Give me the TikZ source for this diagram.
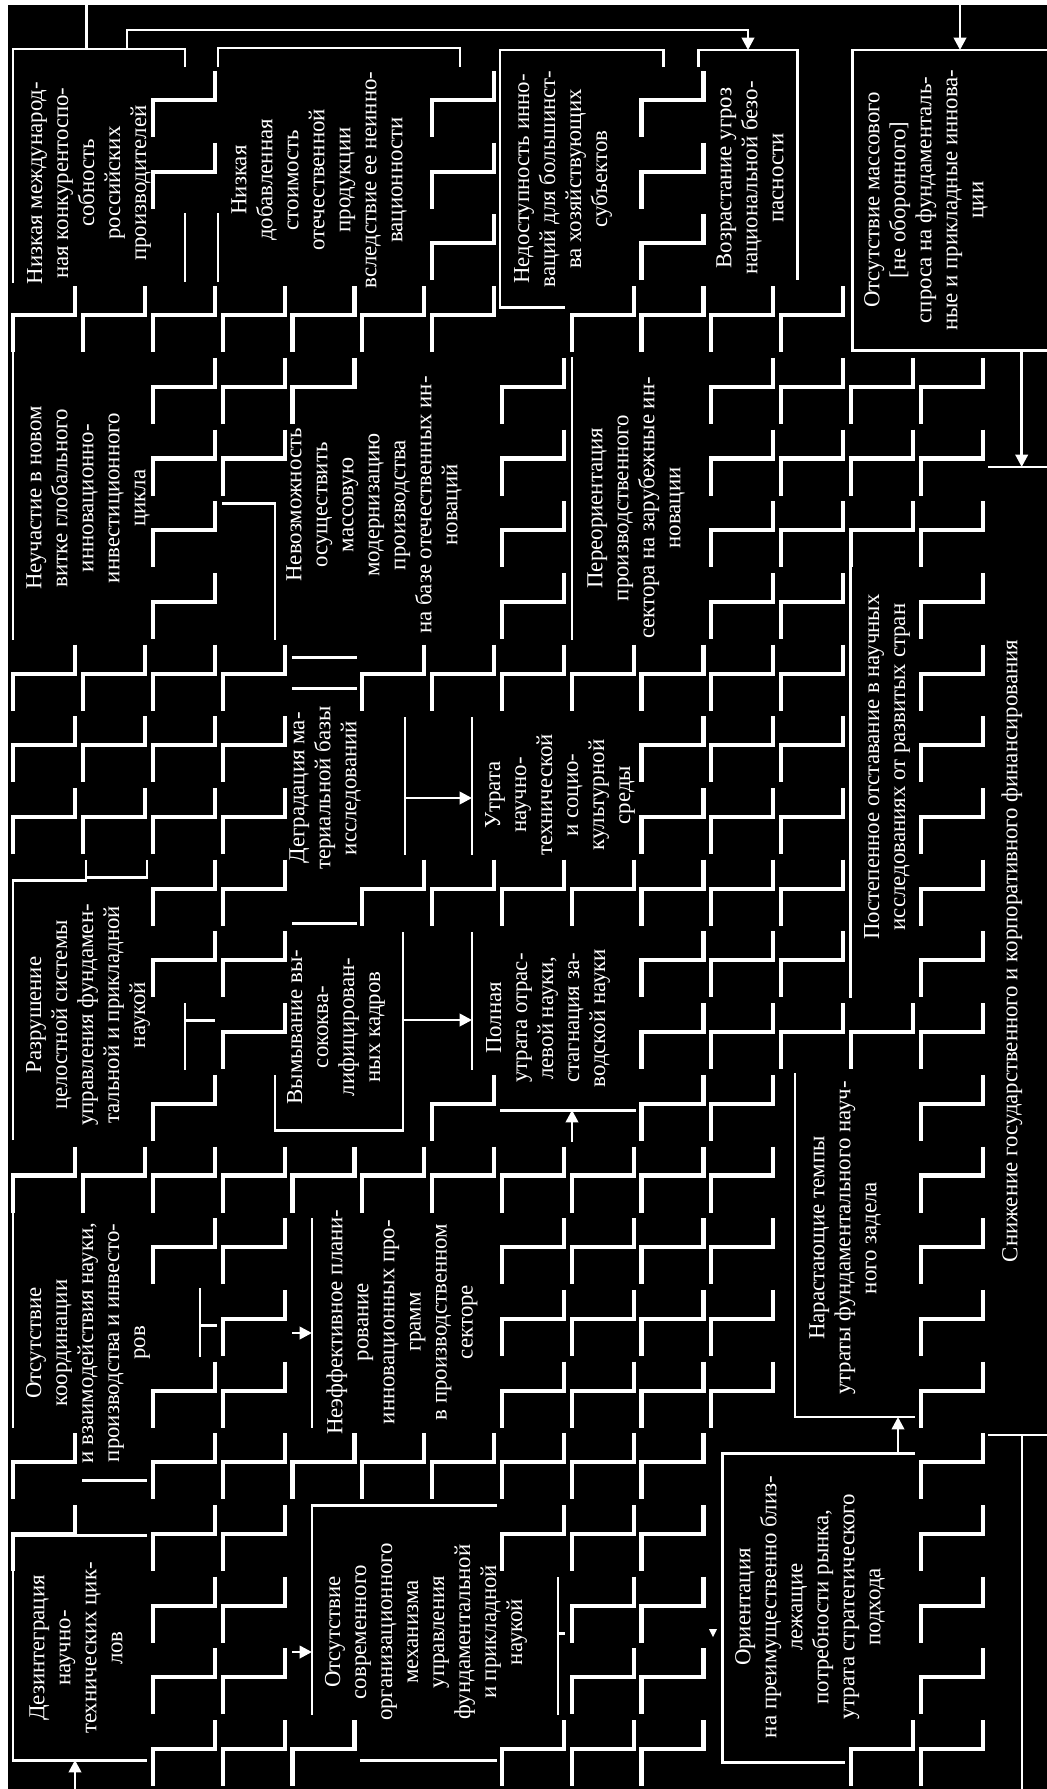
\documentclass[tikz,border=0pt]{standalone}
\usepackage{fontspec}
\setmainfont{Liberation Serif}
\usetikzlibrary{arrows.meta}

\begin{document}
\begin{tikzpicture}[x=0.02cm, y=-0.02cm,
    every node/.style={font=\fontsize{13}{14.8}\selectfont, text=white},
    cause/.style={rotate=90, align=center, inner sep=0pt},
    brick/.style={draw=white, line width=2.3pt},
    frame/.style={draw=white, line width=1.7pt},
    thin/.style={draw=white, line width=1.1pt},
    arrow/.style={draw=white, line width=1.5pt, -{Triangle[length=7pt, width=7pt]}}]

  % page and background
  \useasboundingbox (0,0) rectangle (1047,1789);
  \fill[white] (0,0) rectangle (1047,1789);
  \fill[black] (8,5) rectangle (1047,1789);

  % brick pattern
  \foreach \k in {0,...,13}
    \foreach \j in {0,...,23}
      \draw[brick] ({75.3+69.8*\k},{71+71.7*\j}) -- ++(0,29) -- ++(-62,0) -- ++(0,37);

  % masks behind the boxes (columns ka..kb, rows ja..jb)
  \foreach \ka/\kb/\ja/\jb in {0/1/0/2, 3/5/0/2, 7/8/0/2, 7/7/3/3, 10/11/0/2, 12/13/0/3,
      0/1/4/7, 4/4/5/7, 5/6/4/7, 3/3/6/7, 8/9/4/7, 4/4/8/14, 5/8/9/10, 0/1/11/14,
      2/2/2/2, 2/2/13/13, 2/2/17/17, 3/3/14/14, 5/5/12/14, 6/6/12/13, 7/8/12/14,
      0/1/16/18, 1/1/19/23, 0/0/21/23, 4/6/16/18, 4/4/20/22, 5/6/20/23, 7/7/21/22,
      10/10/19/23, 11/11/14/23, 12/12/14/22, 12/12/7/12}
    \fill[black] ({10.3+69.8*\ka},{70+71.7*\ja}) rectangle ({78.3+69.8*\kb},{140+71.7*\jb});

  % frames
  \draw[frame] (185,67) -- (185,49) -- (13,49) -- (13,283) (185,213) -- (185,282);
  \draw[frame] (218,67) -- (218,48) -- (460,48) -- (460,67) (218,213) -- (218,282);
  \draw[frame] (663,67) -- (663,50) -- (500,50) -- (500,307) -- (565,307);
  \draw[frame] (698,67) -- (698,50) -- (797,50) -- (797,280);
  \draw[frame] (1047,50) -- (852,50) -- (852,350) -- (1047,350);
  \draw[frame] (13,315) -- (13,640);
  \draw[frame] (222,503) -- (275,503) -- (275,640);
  \draw[frame] (572,357) -- (572,640);
  \draw[frame] (292,657) -- (357,657) (292,688) -- (357,688);
  \draw[frame] (405,717) -- (405,855);
  \draw[frame] (472,717) -- (472,855);
  \draw[frame] (850,530) -- (850,998);
  \draw[thin] (988,467) -- (1047,467) (988,1435) -- (1047,1435);
  \draw[frame] (13,1140) -- (13,880) -- (86,880) -- (86,860) (86,877) -- (147,877) -- (147,860);
  \draw[frame] (185,1003) -- (185,1070) (185,1020) -- (215,1020);
  \draw[frame] (292,923) -- (357,923);
  \draw[frame] (403,932) -- (403,1130) -- (275,1130) -- (275,1075);
  \draw[frame] (472,932) -- (472,1070) (500,1110) -- (636,1110);
  \draw[frame] (13,1177) -- (13,1428);
  \draw[frame] (200,1288) -- (200,1357) (200,1325) -- (217,1325);
  \draw[frame] (312,1218) -- (312,1428);
  \draw[frame] (82,1480) -- (147,1480);
  \draw[frame] (147,1535) -- (13,1535) -- (13,1760) -- (147,1760);
  \draw[frame] (497,1505) -- (312,1505) -- (312,1715) (360,1760) -- (497,1760);
  \draw[frame] (558,1577) -- (558,1715) (558,1633) -- (565,1633);
  \draw[frame] (915,1453) -- (722,1453) -- (722,1762) -- (845,1762);
  \draw[thin] (795,1073) -- (795,1417) -- (915,1417);

  % boxes
  \node[cause] (lowcomp) at (89,183) {Низкая международ-\\ная конкурентоспо-\\собность\\российских\\производителей};
  \node[cause] (lowvalue) at (319,180) {Низкая\\добавленная\\стоимость\\отечественной\\продукции\\вследствие ее неинно-\\вационности};
  \node[cause] (noaccess) at (563,179) {Недоступность инно-\\ваций для большинст-\\ва хозяйствующих\\субъектов};
  \node[cause] (threats) at (750,178) {Возрастание угроз\\национальной безо-\\пасности};
  \node[cause] (nodemand) at (926,200) {Отсутствие массового\\{[не оборонного]}\\спроса на фундаменталь-\\ные и прикладные иннова-\\ции};
  \node[cause] (noglobal) at (88,498) {Неучастие в новом\\витке глобального\\инновационно-\\инвестиционного\\цикла};
  \node[cause] (nomodern) at (374,505) {Невозможность\\осуществить\\массовую\\модернизацию\\производства\\на базе отечественных ин-\\новаций};
  \node[cause] (reorient) at (636,508) {Переориентация\\производственного\\сектора на зарубежные ин-\\новации};
  \node[cause] (degrad) at (325,788) {Деградация ма-\\териальной базы\\исследований};
  \node[cause] (lossenv) at (560,795) {Утрата\\научно-\\технической\\и социо-\\культурной\\среды};
  \node[cause] (lagging) at (887,767) {Постепенное отставание в научных\\исследованиях от развитых стран};
  \node[cause] (funding) at (1012,951) {Снижение государственного и корпоративного финансирования};
  \node[cause] (breakdown) at (88,1015) {Разрушение\\целостной системы\\управления фундамен-\\тальной и прикладной\\наукой};
  \node[cause] (braindrain) at (336,1027) {Вымывание вы-\\сококва-\\лифицирован-\\ных кадров};
  \node[cause] (lossind) at (548,1018) {Полная\\утрата отрас-\\левой науки,\\стагнация за-\\водской науки};
  \node[cause] (nocoord) at (88,1343) {Отсутствие\\координации\\и взаимодействия науки,\\производства и инвесто-\\ров};
  \node[cause] (disint) at (76,1648) {Дезинтеграция\\научно-\\технических цик-\\лов};
  \node[cause] (badplan) at (402,1322) {Неэффективное плани-\\рование\\инновационных про-\\грамм\\в производственном\\секторе};
  \node[cause] (nomech) at (426,1632) {Отсутствие\\современного\\организационного\\механизма\\управления\\фундаментальной\\и прикладной\\наукой};
  \node[cause] (shortterm) at (810,1607) {Ориентация\\на преимущественно близ-\\лежащие\\потребности рынка,\\утрата стратегического\\подхода};
  \node[cause] (fundloss) at (845,1238) {Нарастающие темпы\\утраты фундаментального науч-\\ного задела};

  % connector ends
  \coordinate (edge-a) at (86.7,5);
  \coordinate (lowcomp-in) at (86.7,49);
  \coordinate (lowcomp-out) at (127,49);
  \coordinate (threats-in) at (748,50);
  \coordinate (edge-b) at (960,5);
  \coordinate (nodemand-in) at (960,50);
  \coordinate (nodemand-out) at (1021.7,350);
  \coordinate (funding-in) at (1021.7,467);
  \coordinate (funding-out) at (1021.7,1435);
  \coordinate (edge-c) at (1021.7,1789);
  \coordinate (degrad-out) at (405,798);
  \coordinate (lossenv-in) at (472,798);
  \coordinate (braindrain-out) at (403,1020);
  \coordinate (lossind-in) at (472,1020);
  \coordinate (lossind-feed) at (572,1142);
  \coordinate (lossind-low) at (572,1110);
  \coordinate (badplan-feed) at (292,1333);
  \coordinate (badplan-in) at (312,1333);
  \coordinate (nomech-feed) at (292,1652);
  \coordinate (nomech-in) at (312,1652);
  \coordinate (edge-d) at (75,1789);
  \coordinate (disint-in) at (75,1760);
  \coordinate (shortterm-out) at (898,1453);
  \coordinate (fundloss-in) at (898,1417);

  % connectors
  \draw[frame] (edge-a) -- (lowcomp-in);
  \draw[arrow] (lowcomp-out) -- ++(0,-19) -| (threats-in);
  \draw[arrow] (edge-b) -- (nodemand-in);
  \draw[arrow] (nodemand-out) -- (funding-in);
  \draw[thin] (funding-out) -- (edge-c);
  \draw[arrow] (degrad-out) -- (lossenv-in);
  \draw[arrow] (braindrain-out) -- (lossind-in);
  \draw[arrow] (lossind-feed) -- (lossind-low);
  \draw[arrow] (badplan-feed) -- (badplan-in);
  \draw[arrow] (nomech-feed) -- (nomech-in);
  \draw[arrow] (edge-d) -- (disint-in);
  \draw[arrow] (shortterm-out) -- (fundloss-in);
  \fill[white] (709,1629) -- (717,1629) -- (713,1637) -- cycle;
\end{tikzpicture}
\end{document}
